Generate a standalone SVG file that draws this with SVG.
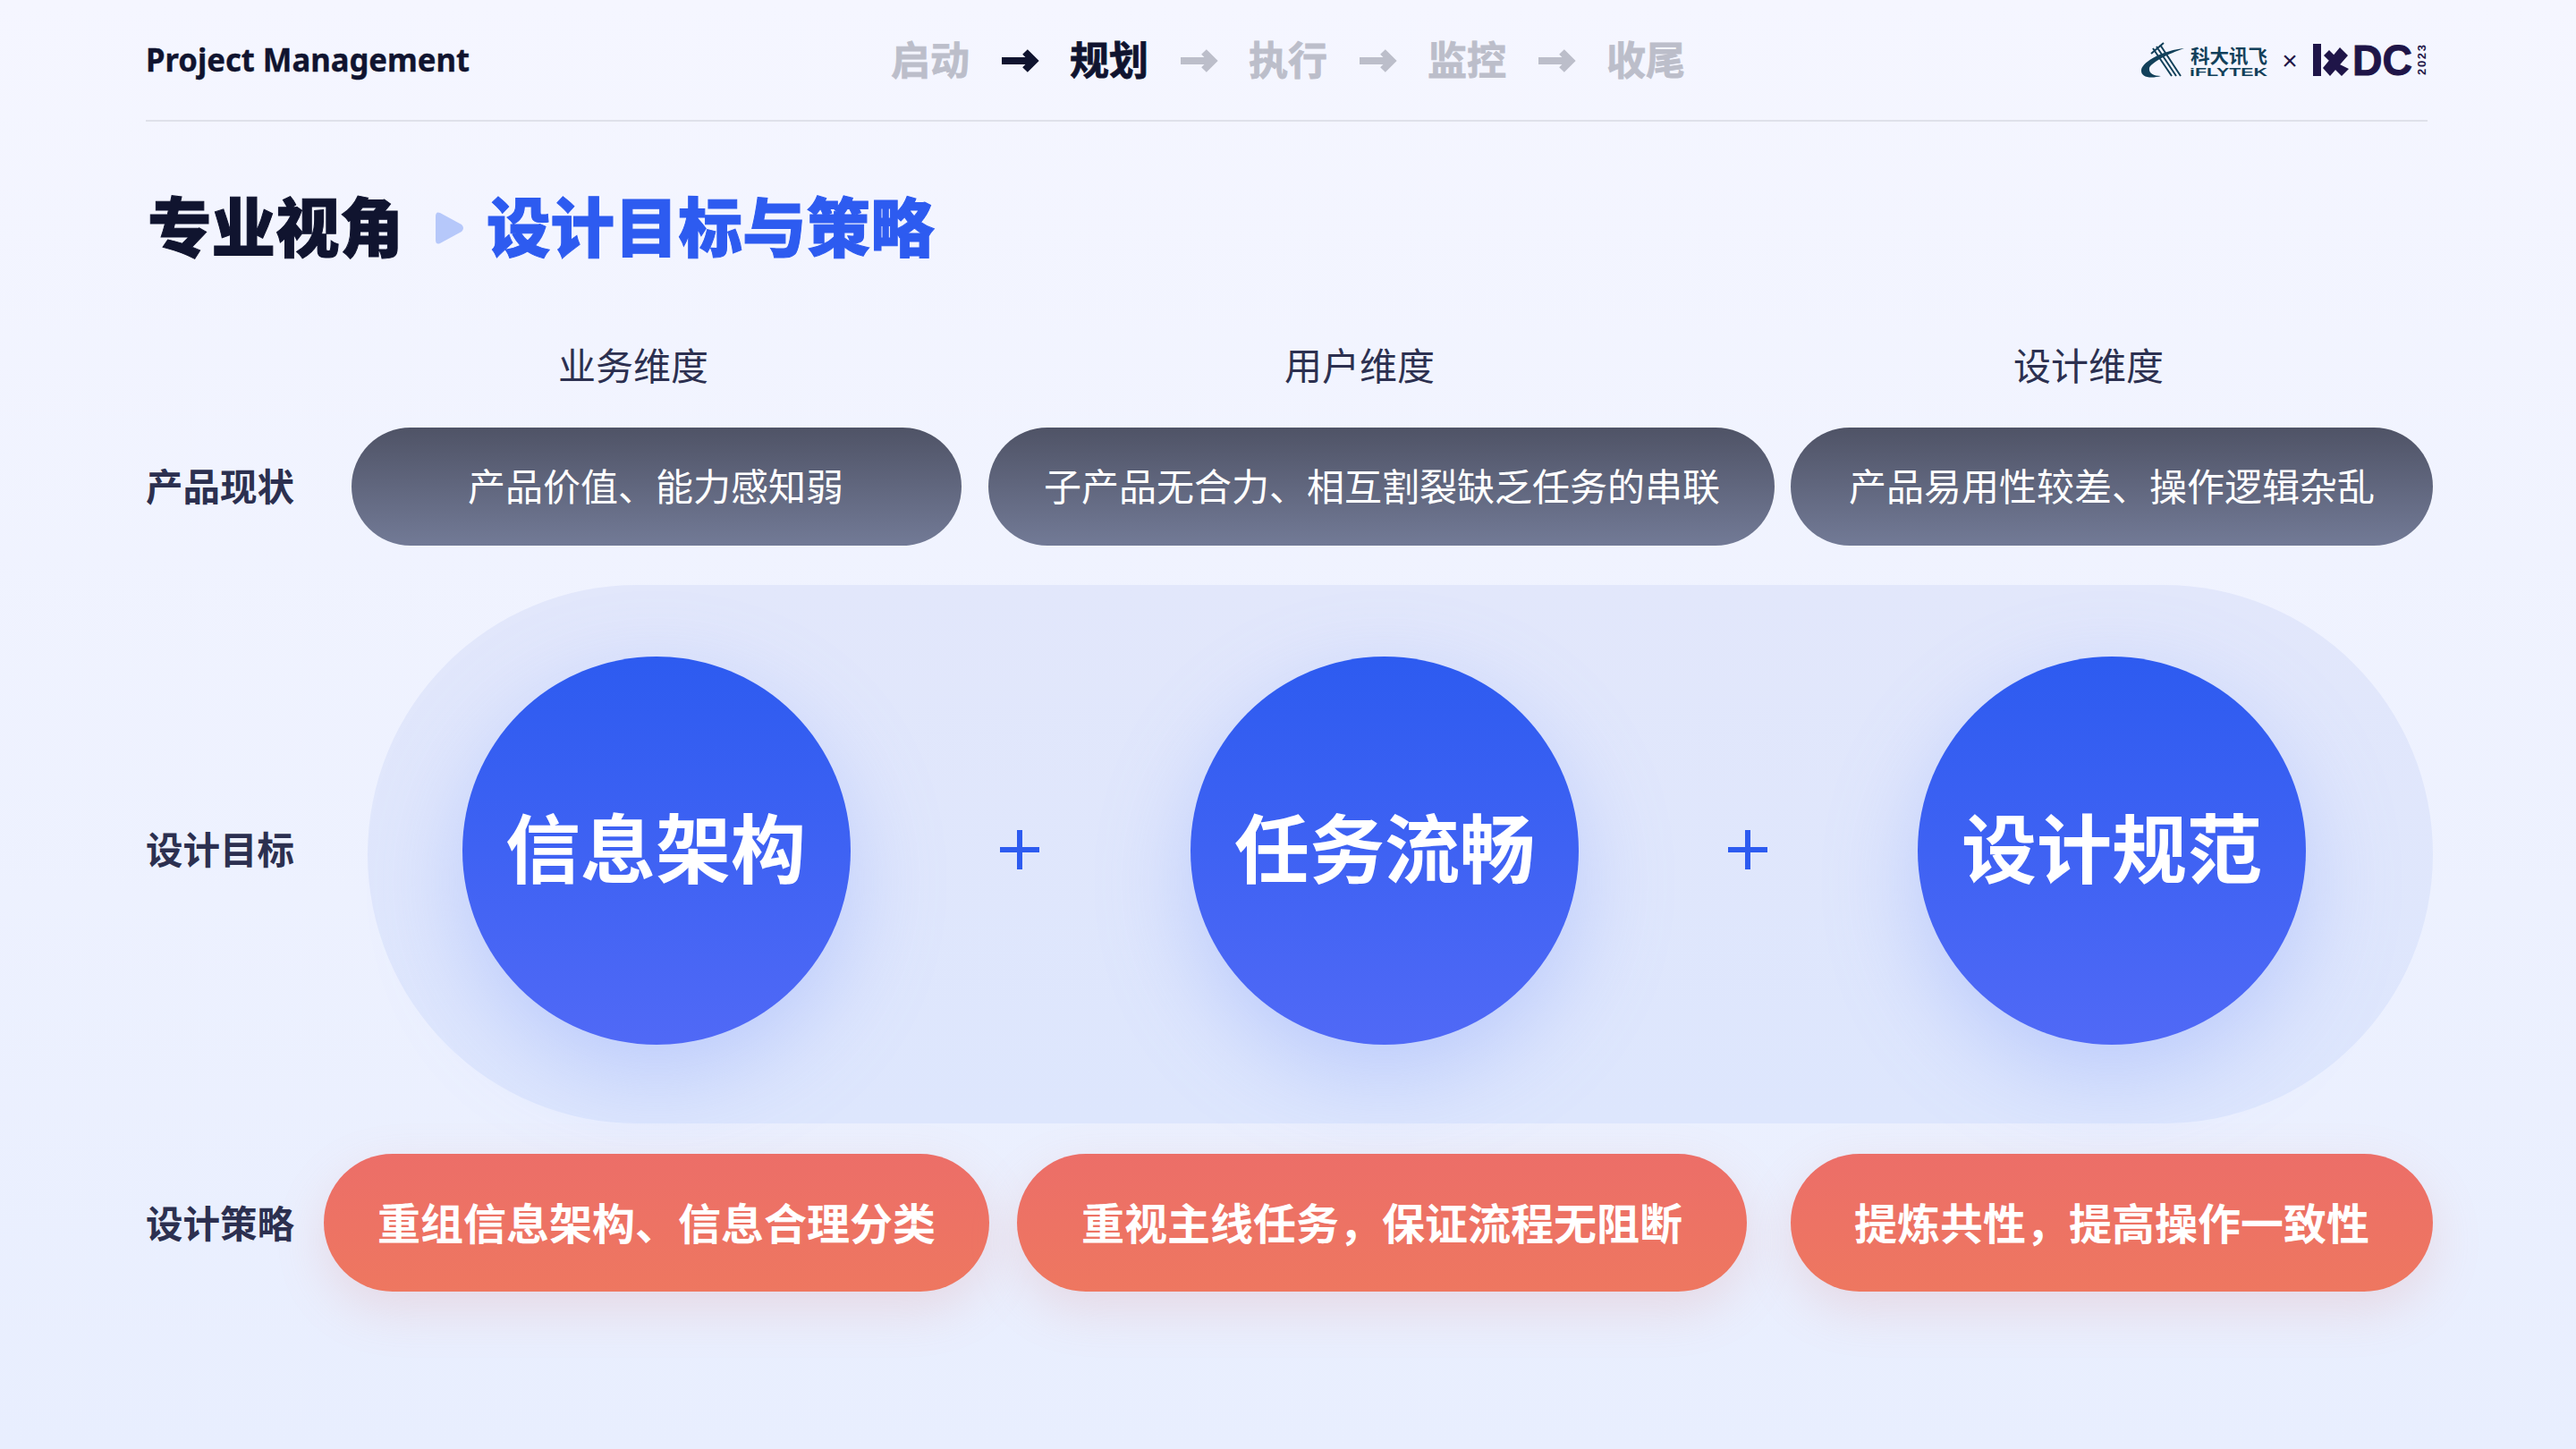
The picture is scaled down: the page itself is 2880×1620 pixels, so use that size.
<svg xmlns="http://www.w3.org/2000/svg" width="2880" height="1620" viewBox="0 0 2880 1620">
<style>
text{font-family:"Noto Sans CJK SC","Noto Sans",sans-serif}
.c{text-anchor:middle}
.lat{font-family:"Liberation Sans",sans-serif}
.nav{font-size:44px;font-weight:700;fill:#bcbeca;stroke:#bcbeca;stroke-width:.8}
.row{font-size:41.5px;font-weight:700;fill:#2c3050}
.dim{font-size:42px;fill:#2c3050;text-anchor:middle}
.gray{font-size:42px;fill:#fff;text-anchor:middle}
.red{font-size:48px;font-weight:700;fill:#fff;text-anchor:middle}
.big{font-size:84px;font-weight:700;fill:#fff;text-anchor:middle}
.arr{fill:none;stroke:#bcbeca;stroke-width:8}
.plus{stroke:#2d5bf0;stroke-width:6;fill:none}
.halo{fill:#7f9bfa;opacity:.38}
.sh{fill:#d98a8a;opacity:.22}
.ifly{fill:#12405a}
.ixdc{fill:#1f1548}
</style>
<defs>
<linearGradient id="bg" x1="0" y1="0" x2="0" y2="1"><stop offset="0" stop-color="#f5f6ff"/><stop offset="1" stop-color="#e8eefe"/></linearGradient>
<linearGradient id="gp" x1="0" y1="0" x2="0" y2="1"><stop offset="0" stop-color="#4f5366"/><stop offset="1" stop-color="#727a96"/></linearGradient>
<linearGradient id="rp" x1="0" y1="0" x2="0" y2="1"><stop offset="0" stop-color="#ec6e68"/><stop offset="1" stop-color="#ee7760"/></linearGradient>
<linearGradient id="cp" x1="0" y1="0" x2="0" y2="1"><stop offset="0" stop-color="#2d5bf0"/><stop offset="1" stop-color="#5069f6"/></linearGradient>
<linearGradient id="band" x1="0" y1="0" x2="0" y2="1"><stop offset="0" stop-color="#e2e7fb"/><stop offset="1" stop-color="#dde6fd"/></linearGradient>
<filter id="glow" x="-60%" y="-60%" width="220%" height="220%"><feGaussianBlur stdDeviation="55"/></filter>
<filter id="soft" x="-20%" y="-80%" width="140%" height="260%"><feGaussianBlur stdDeviation="28"/></filter>
</defs>
<rect width="2880" height="1620" fill="url(#bg)"/>
<g id="header">
<text x="163" y="80" font-size="36" font-weight="700" fill="#10142f" stroke="#10142f" stroke-width=".4" style="font-family:'Noto Sans',sans-serif" textLength="362" lengthAdjust="spacingAndGlyphs">Project Management</text>
<text class="nav c" x="1040" y="84">启动</text>
<text class="nav c" x="1240" y="84" style="fill:#10142f;stroke:#10142f">规划</text>
<text class="nav c" x="1440" y="84">执行</text>
<text class="nav c" x="1640" y="84">监控</text>
<text class="nav c" x="1840" y="84">收尾</text>
<rect x="163" y="134" width="2551" height="2" fill="#dfe1ea"/>
</g>
<g id="logo">
<path class="ifly" d="M2442 54C2420 56 2396 68 2394 78C2393 87 2405 88 2416 85C2408 85 2402 82 2403 76C2405 70 2424 60 2442 54Z"/>
<path d="M2407 54L2428 85M2411 52L2433 85M2415 50L2438 85M2419 48L2405 60" fill="none" stroke="#12405a" stroke-width="2"/>
<text class="ifly" x="2449" y="70" font-size="21" font-weight="700" textLength="86" lengthAdjust="spacingAndGlyphs">科大讯飞</text>
<text class="ifly lat" x="2448" y="85" font-size="12" font-weight="700" textLength="87" lengthAdjust="spacingAndGlyphs">iFLYTEK</text>
<text class="ixdc lat c" x="2560" y="78" font-size="30">×</text>
<rect class="ixdc" x="2586" y="49" width="9" height="36"/>
<path class="ixdc" d="M2604 56L2610 62L2604 68L2598 62ZM2616 53L2625 62L2605 85L2597 76ZM2614 71L2626 77L2618 85L2609 76Z"/>
<text class="ixdc lat" x="2630" y="84" font-size="49" font-weight="700" stroke="#1f1548" stroke-width="1" textLength="67" lengthAdjust="spacingAndGlyphs">DC</text>
<text class="ixdc lat" transform="translate(2712,84) rotate(-90)" font-size="13" font-weight="700" textLength="34">2023</text>
</g>
<g id="title">
<text x="165" y="281" font-size="71.5" font-weight="900" fill="#10142f" stroke="#10142f" stroke-width="1">专业视角</text>
<path d="M492 238L516 251Q520 255 516 259L492 272Q487 274 487 268V242Q487 236 492 238Z" fill="#b6c8fa"/>
<text x="544" y="281" font-size="71.5" font-weight="900" fill="#2d5bf0" stroke="#2d5bf0" stroke-width="1">设计目标与策略</text>
</g>
<g id="dimensions">
<text class="dim" x="708" y="425">业务维度</text>
<text class="dim" x="1520" y="425">用户维度</text>
<text class="dim" x="2335" y="425">设计维度</text>
</g>
<g id="row-labels">
<text class="row" x="163" y="560">产品现状</text>
<text class="row" x="163" y="966">设计目标</text>
<text class="row" x="163" y="1384">设计策略</text>
</g>
<g id="status-1"><rect x="393" y="478" width="682" height="132" rx="66" fill="url(#gp)"/><text class="gray" x="733" y="560">产品价值、能力感知弱</text></g>
<g id="status-2"><rect x="1105" y="478" width="879" height="132" rx="66" fill="url(#gp)"/><text class="gray" x="1545" y="560">子产品无合力、相互割裂缺乏任务的串联</text></g>
<g id="status-3"><rect x="2002" y="478" width="718" height="132" rx="66" fill="url(#gp)"/><text class="gray" x="2361" y="560">产品易用性较差、操作逻辑杂乱</text></g>
<g id="band-bg"><rect x="411" y="654" width="2309" height="602" rx="301" fill="url(#band)"/></g>
<g id="goal-1"><circle class="halo" cx="734" cy="985" r="215" filter="url(#glow)"/><circle cx="734" cy="951" r="217" fill="url(#cp)"/><text class="big" x="733" y="981">信息架构</text></g>
<g id="goal-2"><circle class="halo" cx="1548" cy="985" r="215" filter="url(#glow)"/><circle cx="1548" cy="951" r="217" fill="url(#cp)"/><text class="big" x="1548" y="981">任务流畅</text></g>
<g id="goal-3"><circle class="halo" cx="2361" cy="985" r="215" filter="url(#glow)"/><circle cx="2361" cy="951" r="217" fill="url(#cp)"/><text class="big" x="2361" y="981">设计规范</text></g>
<g id="strategy-1"><rect class="sh" x="362" y="1310" width="744" height="154" rx="77" filter="url(#soft)"/><rect x="362" y="1290" width="744" height="154" rx="77" fill="url(#rp)"/><text class="red" x="734" y="1386">重组信息架构、信息合理分类</text></g>
<g id="strategy-2"><rect class="sh" x="1137" y="1310" width="816" height="154" rx="77" filter="url(#soft)"/><rect x="1137" y="1290" width="816" height="154" rx="77" fill="url(#rp)"/><text class="red" x="1545" y="1386">重视主线任务，保证流程无阻断</text></g>
<g id="strategy-3"><rect class="sh" x="2002" y="1310" width="718" height="154" rx="77" filter="url(#soft)"/><rect x="2002" y="1290" width="718" height="154" rx="77" fill="url(#rp)"/><text class="red" x="2361" y="1386">提炼共性，提高操作一致性</text></g>
<g id="connectors">
<path class="arr" d="M1120 68H1156M1146 58L1156 68L1146 78" style="stroke:#10142f"/>
<path class="arr" d="M1320 68H1356M1346 58L1356 68L1346 78"/>
<path class="arr" d="M1520 68H1556M1546 58L1556 68L1546 78"/>
<path class="arr" d="M1720 68H1756M1746 58L1756 68L1746 78"/>
<path class="plus" d="M1118 950H1162M1140 928V972"/>
<path class="plus" d="M1932 950H1976M1954 928V972"/>
</g>
</svg>
